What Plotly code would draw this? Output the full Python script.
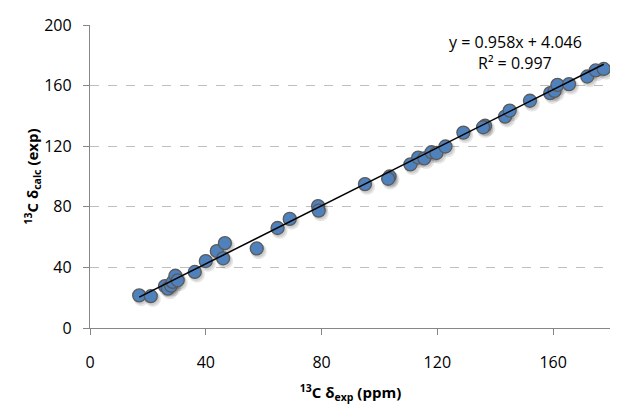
import plotly.graph_objects as go
import numpy as np

x_exp = [17.0, 21.0, 25.9, 26.9, 28.0, 28.6, 29.5, 30.3, 36.2, 40.0,
         43.8, 46.0, 46.6, 57.6, 64.8, 69.0, 78.8, 79.0, 95.0, 103.5,
         103.0, 110.7, 113.4, 115.5, 118.0, 119.7, 122.8, 129.0, 136.5, 135.8,
         143.4, 145.0, 152.0, 159.0, 160.5, 161.5, 165.5, 171.8, 174.7, 177.5]
y_calc = [21.5, 21.0, 27.7, 26.0, 28.0, 30.4, 34.5, 31.5, 37.0, 44.2,
          50.8, 46.0, 56.0, 52.5, 66.0, 72.0, 80.5, 77.5, 95.0, 100.0,
          98.5, 108.0, 112.5, 112.0, 116.0, 115.5, 119.8, 129.0, 133.5, 132.5,
          139.5, 143.5, 150.0, 155.0, 156.5, 160.5, 161.0, 166.0, 170.0, 171.0]

slope = 0.958
intercept = 4.046
r2 = 0.997

x_ticks = [0, 40, 80, 120, 160]
y_ticks = [0, 40, 80, 120, 160, 200]

font_family = "Open Sans, Lato, Liberation Sans, sans-serif"

# figure sits 8px in from the page corner (default body margin)
L, R, T, B = 82, 7, 17, 80
W, H = 610, 400
pw, ph = W - L - R, H - T - B

fig = go.Figure()

# soft shadow under the markers
xs = np.array(x_exp)
ys = np.array(y_calc)
fig.add_trace(go.Scatter(
    x=xs + 0.7, y=ys - 1.8, mode="markers",
    marker=dict(size=16, color="rgba(0,0,0,0.10)", line=dict(width=0)),
    hoverinfo="skip", showlegend=False))
fig.add_trace(go.Scatter(
    x=xs + 0.5, y=ys - 1.3, mode="markers",
    marker=dict(size=14, color="rgba(0,0,0,0.10)", line=dict(width=0)),
    hoverinfo="skip", showlegend=False))

fig.add_trace(go.Scatter(
    x=x_exp, y=y_calc, mode="markers",
    marker=dict(size=13, color="#4F81BD", line=dict(color="#5A5A5A", width=1.3)),
    showlegend=False))

xl = np.array([min(x_exp), max(x_exp)])
fig.add_trace(go.Scatter(
    x=xl, y=slope * xl + intercept, mode="lines",
    line=dict(color="black", width=1.5), showlegend=False))

ann_x = (507 - L) / pw
fig.add_annotation(
    xref="paper", yref="paper", x=ann_x, y=(H - B - 34) / ph,
    text=f"y = {slope}x + {intercept}", showarrow=False,
    font=dict(size=16, color="black", family=font_family), xanchor="center", yanchor="middle")
fig.add_annotation(
    xref="paper", yref="paper", x=ann_x, y=(H - B - 55) / ph,
    text=f"R² = {r2}", showarrow=False,
    font=dict(size=16, color="black", family=font_family), xanchor="center", yanchor="middle")

fig.update_layout(
    width=W, height=H,
    margin=dict(l=L, r=R, t=T, b=B),
    paper_bgcolor="white", plot_bgcolor="white",
    font=dict(family=font_family, size=16, color="black"),
    xaxis=dict(
        range=[0, 180], tickvals=x_ticks, ticktext=[str(v) for v in x_ticks],
        showgrid=False, zeroline=False, automargin=False,
        showline=True, linecolor="#868686", linewidth=1.3,
        ticks="outside", ticklen=6, tickcolor="#868686", tickwidth=1.3,
        ticklabelstandoff=14,
        title=dict(text="<b><sup>13</sup>C δ<sub>exp</sub> (ppm)</b>", font=dict(size=15), standoff=15),
    ),
    yaxis=dict(
        range=[0, 200], tickvals=y_ticks, ticktext=[str(v) for v in y_ticks],
        showgrid=True, gridcolor="#BFBFBF", griddash="dash", gridwidth=1,
        zeroline=False, automargin=False,
        showline=True, linecolor="#868686", linewidth=1.3,
        ticks="outside", ticklen=6, tickcolor="#868686", tickwidth=1.3,
        ticklabelstandoff=8,
        title=dict(text="<b><sup>13</sup>C δ<sub>calc</sub> (exp)</b>", font=dict(size=15), standoff=0),
    ),
)

fig.write_html("out.html")
